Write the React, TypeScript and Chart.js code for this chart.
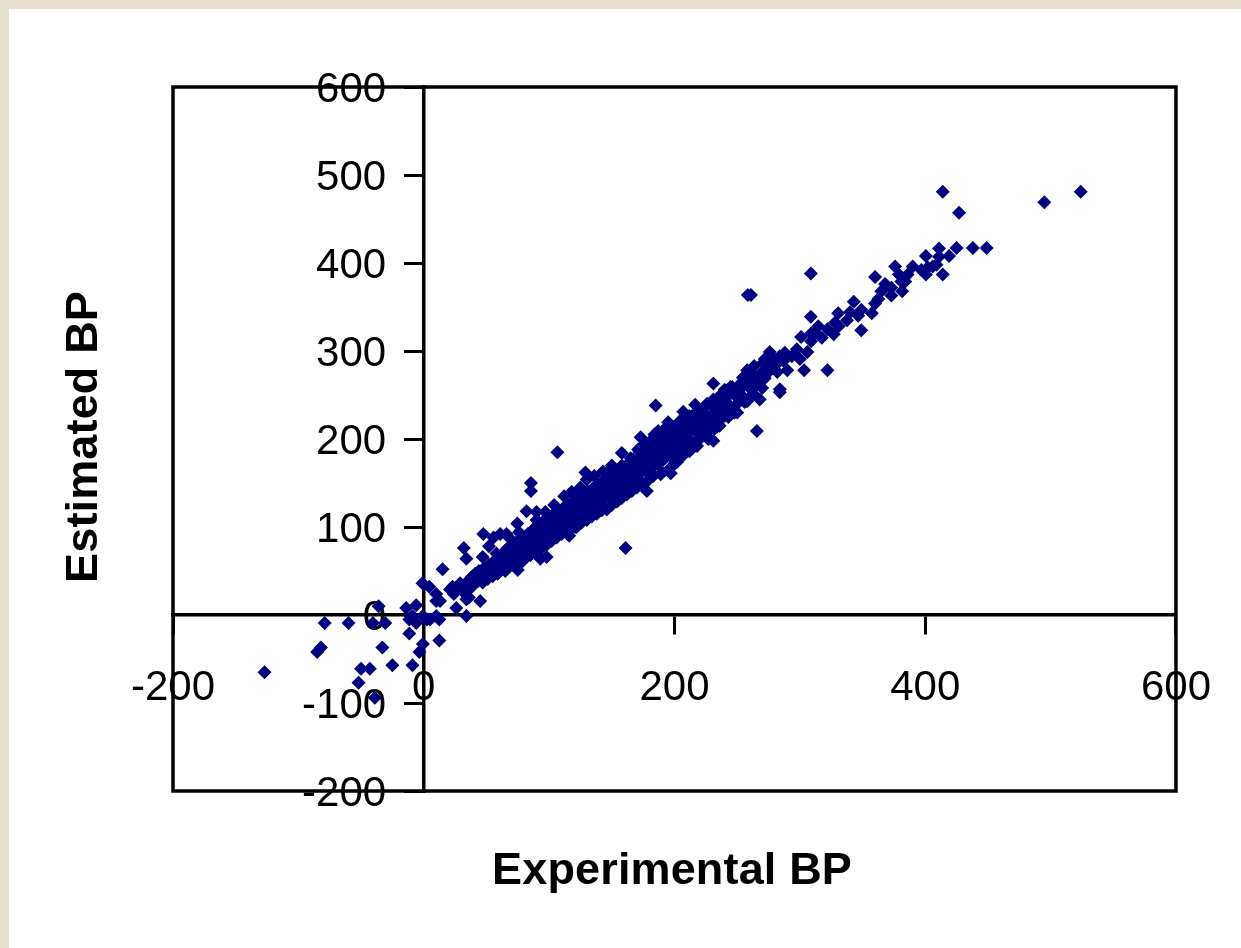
import React, { useEffect, useRef } from "react";
import { Chart, registerables } from "chart.js";

Chart.register(...registerables);

type P = [number, number];

const xTicks = { min: -200, max: 600, step: 200 };
const yTicks = { min: -200, max: 600, step: 100 };
const xTitle = "Experimental BP";
const yTitle = "Estimated BP";

const negativeTail: P[] = [
  [-127, -65], [-79, -9], [-60, -9], [-40.5, -9], [-30.7, -9], [-36, 10], [-85, -42], [-82, -37],
  [-50, -61], [-43, -61], [-52, -77], [-39, -94], [-33, -37], [-25, -57], [-9, -57], [-11.5, -21],
  [-3.5, -42], [-0.7, -33], [12.4, -29], [-14, 8], [-6, 11], [-11.5, -5], [-9, -1], [-6, -9],
  [-0.7, -1], [2.5, -5], [5, -5], [10, -1], [12.4, -5], [34, -1], [26, 8], [45, 16], [34, 18], [36, 20],
  [-1, 36], [4.4, 32], [10, 24], [10, 16], [13, 16], [15, 52], [32, 76], [34, 64], [47.5, 92],
  [23, 32], [21, 29], [24, 24],
];

const lowBand: P[] = [
  [27, 31], [29, 36], [31, 27], [33, 33], [35, 38], [37, 30], [38, 43], [40, 35], [41, 47], [43, 38],
  [44, 50], [45, 43], [47, 37], [48, 53], [49, 46], [51, 41], [52, 57], [53, 50], [55, 44], [56, 61],
  [57, 53], [59, 47], [59, 54], [60, 64], [61, 57], [65, 50], [75, 51], [85, 68], [93, 64], [98, 66],
  [55.7, 88], [61, 92], [66, 92], [74.6, 104], [82, 118], [90, 117], [47, 66], [52, 78], [58, 70], [68, 88],
  [76, 94],
];

const midBand: P[] = [
  [62, 55], [62, 68], [64, 60], [65, 73], [67, 64], [67, 76], [69, 57], [70, 70], [71, 80], [73, 63],
  [73, 74], [75, 84], [76, 66], [77, 77], [78, 60], [79, 88], [80, 71], [81, 82], [82, 66], [83, 92],
  [84, 76], [85, 86], [86, 70], [87, 97], [88, 80], [89, 90], [90, 72], [91, 102], [92, 84], [93, 94],
  [94, 76], [95, 106], [96, 88], [97, 98], [98, 80], [99, 111], [100, 92], [101, 102], [102, 84], [103, 114],
  [104, 96], [105, 106], [106, 88], [107, 117], [108, 99], [109, 110], [110, 92], [111, 121], [112, 103], [113, 113],
  [114, 95], [115, 125], [116, 107], [117, 117], [118, 98], [119, 129], [120, 110], [121, 120], [122, 100], [123, 132],
  [124, 114], [125, 124], [126, 105], [127, 136], [128, 117], [129, 127], [130, 108], [129, 162], [131, 140], [132, 121],
  [133, 131], [134, 112], [135, 117], [135, 144], [136, 125], [137, 135], [138, 115], [139, 148], [140, 128], [141, 138],
  [142, 119], [143, 152], [144, 132], [145, 142], [146, 120], [147, 156], [148, 136], [149, 166], [149, 146], [150, 125],
  [151, 160], [152, 140], [153, 150], [154, 129], [155, 130], [155, 164], [156, 144], [157, 154], [158, 184], [158, 133],
  [159, 168], [160, 148], [161, 158], [162, 137], [163, 172], [164, 152], [165, 162], [166, 141], [167, 177], [168, 156],
  [169, 166], [170, 145], [171, 188], [172, 160], [173, 202], [173, 170], [174, 150], [175, 182], [176, 194], [177, 164],
  [178, 141], [178, 174], [179, 153], [180, 186], [181, 198], [182, 168], [183, 158], [183, 178], [184, 205], [185, 190],
  [186, 172], [187, 209], [188, 182], [189, 160], [189, 196], [190, 162], [191, 176], [192, 186], [193, 200], [194, 214],
  [195, 219], [196, 166], [197, 161], [197, 180], [198, 192], [199, 206], [200, 172], [201, 186], [202, 174], [202, 198],
  [203, 212], [204, 220], [206, 180], [207, 231], [207, 192], [208, 204], [210, 216], [212, 186], [213, 198], [214, 226],
  [216, 210], [216.5, 239], [218, 192], [219, 220], [221, 204], [222, 232], [224, 214], [226, 240], [227, 200], [228, 224],
  [229, 215], [231, 245], [232, 212], [233, 232], [235, 222], [236, 215], [236, 249], [238, 225], [240, 256], [240, 236],
  [243, 225], [244, 238], [246, 259], [244.6, 259], [248, 230], [250, 230], [252, 256], [254, 249], [258, 243], [263, 251],
  [268, 245], [270, 258],
];

const bandCore: P[] = [
  [40, 42], [42, 44], [44, 46], [46, 47], [48, 49], [50, 50], [52, 53], [54, 54], [56, 57], [58, 59], [60, 60],
  [62, 62], [64, 67], [66, 66], [68, 71], [70, 65], [72, 75], [74, 69], [76, 79], [78, 73], [80, 82], [82, 77],
  [84, 86], [86, 80], [88, 90], [90, 85], [92, 95], [94, 89], [96, 99], [98, 93], [100, 103], [102, 97], [104, 107],
  [106, 100], [108, 111], [110, 104], [112, 115], [114, 109], [116, 119], [118, 113], [120, 124], [122, 116], [124, 128],
  [126, 120], [128, 132], [130, 125], [132, 136], [134, 129], [136, 140], [138, 133], [140, 145], [142, 137], [144, 148],
  [146, 141], [148, 152], [150, 146], [152, 156], [154, 150], [156, 160], [158, 154], [160, 164], [162, 158], [164, 168],
  [166, 161], [168, 172], [170, 165], [172, 178], [174, 169], [176, 182], [178, 172], [180, 190], [180, 164], [182, 182],
  [184, 175], [184, 194], [186, 184], [188, 198], [190, 178], [190, 190], [192, 204], [194, 184], [194, 196], [196, 208],
  [198, 186], [198, 200], [200, 214], [200, 195], [202, 186], [204, 206], [206, 198], [208, 222], [208, 188], [210, 206],
  [212, 226], [212, 198], [214, 212], [216, 194], [216, 226], [218, 208], [220, 232], [220, 200], [222, 218], [224, 236],
  [224, 204], [226, 226], [228, 210], [230, 238], [232, 222], [234, 242], [234, 214], [236, 232], [238, 244], [240, 226],
  [242, 248], [242, 238], [244, 254], [246, 232], [248, 250], [250, 240], [252, 262], [256, 264], [256, 242], [260, 258],
  [262, 266], [266, 262], [270, 276], [276, 284], [280, 290], [284, 294],
];

const bandEdges: P[] = [
  [178, 190], [172, 186], [165, 178], [158, 170], [150, 170], [143, 163], [136, 158], [130, 154], [125, 145], [118, 140],
  [112, 135], [104, 125], [97, 117], [90, 108], [170, 150], [164, 146], [156, 138], [150, 132], [140, 120], [128, 112],
  [120, 104], [112, 98], [104, 90], [96, 84], [88, 76], [80, 66],
];

const upperBand: P[] = [
  [231, 263], [185, 238], [106.6, 185], [85.5, 150], [85.5, 141], [161, 76], [231, 198], [116, 90], [121, 100], [98.6, 81],
  [265.7, 209], [284, 256.5], [284, 253], [254.6, 270], [258, 278], [260, 276], [263.6, 283], [264.4, 270], [268.4, 270], [271, 287],
  [272, 269], [275, 283], [275, 276], [280, 283], [282, 276], [290, 278], [303.4, 278], [322, 278], [272, 291], [276, 299],
  [287, 289], [288, 298], [293.6, 294], [297.6, 302], [300, 291], [301, 316], [306, 299], [309, 311], [309, 320], [312, 321],
  [314.7, 328], [317.5, 315], [322, 324.6], [327, 319], [328, 332], [331, 328], [337.6, 335], [340, 344], [346.5, 340], [349, 347],
  [349, 323.5], [343, 356], [357.4, 343], [360, 354], [362.6, 359], [373, 363], [365, 368], [373, 372], [368, 376], [381.6, 368],
  [360, 384], [379, 387], [376, 396], [381, 379], [384, 379], [386, 387], [390, 396], [414, 387], [400.5, 387], [397, 392],
  [402, 395], [406, 396], [409, 398], [411, 407], [400.5, 408], [419, 408], [411, 416.6], [425, 417], [438, 417], [449, 417],
  [330.6, 343], [308.8, 388], [308.8, 339], [258.5, 363.6], [261, 363.6], [427, 457], [414, 481], [495, 469], [524, 481],
];

const allPoints: P[] = [...negativeTail, ...lowBand, ...midBand, ...bandCore, ...bandEdges, ...upperBand];

const frameAndTitles = {
  id: "frameAndTitles",
  afterDraw(chart: any) {
    const { ctx, chartArea: a } = chart;
    ctx.save();
    ctx.strokeStyle = "#000";
    ctx.lineWidth = 3.5;
    ctx.strokeRect(a.left, a.top, a.right - a.left, a.bottom - a.top);
    ctx.fillStyle = "#000";
    ctx.font = 'bold 45px "Liberation Sans"';
    ctx.letterSpacing = "0.15px";
    ctx.textAlign = "center";
    ctx.textBaseline = "middle";
    ctx.fillText(xTitle, 672, 872);
    ctx.translate(85, 437);
    ctx.rotate(-Math.PI / 2);
    ctx.fillText(yTitle, 0, 0);
    ctx.restore();
  },
};

export default function App() {
  const ref = useRef<HTMLCanvasElement>(null);
  useEffect(() => {
    const common = {
      grid: { drawOnChartArea: false, color: "#000", lineWidth: 3, tickLength: 18, tickWidth: 3 },
      border: { color: "#000", width: 3.5 },
    };
    const font = { family: '"Liberation Sans"', size: 42 };
    const chart = new Chart(ref.current as HTMLCanvasElement, {
      type: "scatter",
      data: {
        datasets: [
          {
            label: "BP",
            data: allPoints.map(([x, y]) => ({ x, y })),
            backgroundColor: "#000080",
            borderColor: "#000080",
            borderWidth: 0,
            pointStyle: "rectRot",
            pointRadius: 7,
          },
        ],
      },
      options: {
        animation: false,
        responsive: false,
        layout: { autoPadding: false, padding: { left: 173, right: 64, top: 87, bottom: 157 } },
        plugins: { legend: { display: false }, title: { display: false }, tooltip: { enabled: false } },
        scales: {
          x: {
            type: "linear",
            position: { y: 0 },
            min: xTicks.min,
            max: xTicks.max,
            ...common,
            ticks: { stepSize: xTicks.step, color: "#000", font, padding: 30, maxRotation: 0, autoSkip: false },
          },
          y: {
            type: "linear",
            position: { x: 0 },
            min: yTicks.min,
            max: yTicks.max,
            ...common,
            ticks: { display: false, stepSize: yTicks.step },
          },
          yLabels: {
            axis: "y",
            type: "linear",
            position: { x: -30 },
            min: yTicks.min,
            max: yTicks.max,
            grid: { drawOnChartArea: false, drawTicks: false },
            border: { display: false },
            ticks: { stepSize: yTicks.step, color: "#000", font, padding: 0, labelOffset: 3, autoSkip: false },
          },
        },
      } as any,
      plugins: [frameAndTitles],
    });
    return () => chart.destroy();
  }, []);

  return (
    <div style={{ position: "fixed", inset: 0, background: "#E7DFD0" }}>
      <div style={{ position: "absolute", left: 9, top: 9, right: 0, bottom: 0, background: "#fff" }} />
      <canvas ref={ref} width={1241} height={948} style={{ position: "absolute", left: 0, top: 0 }} />
    </div>
  );
}
